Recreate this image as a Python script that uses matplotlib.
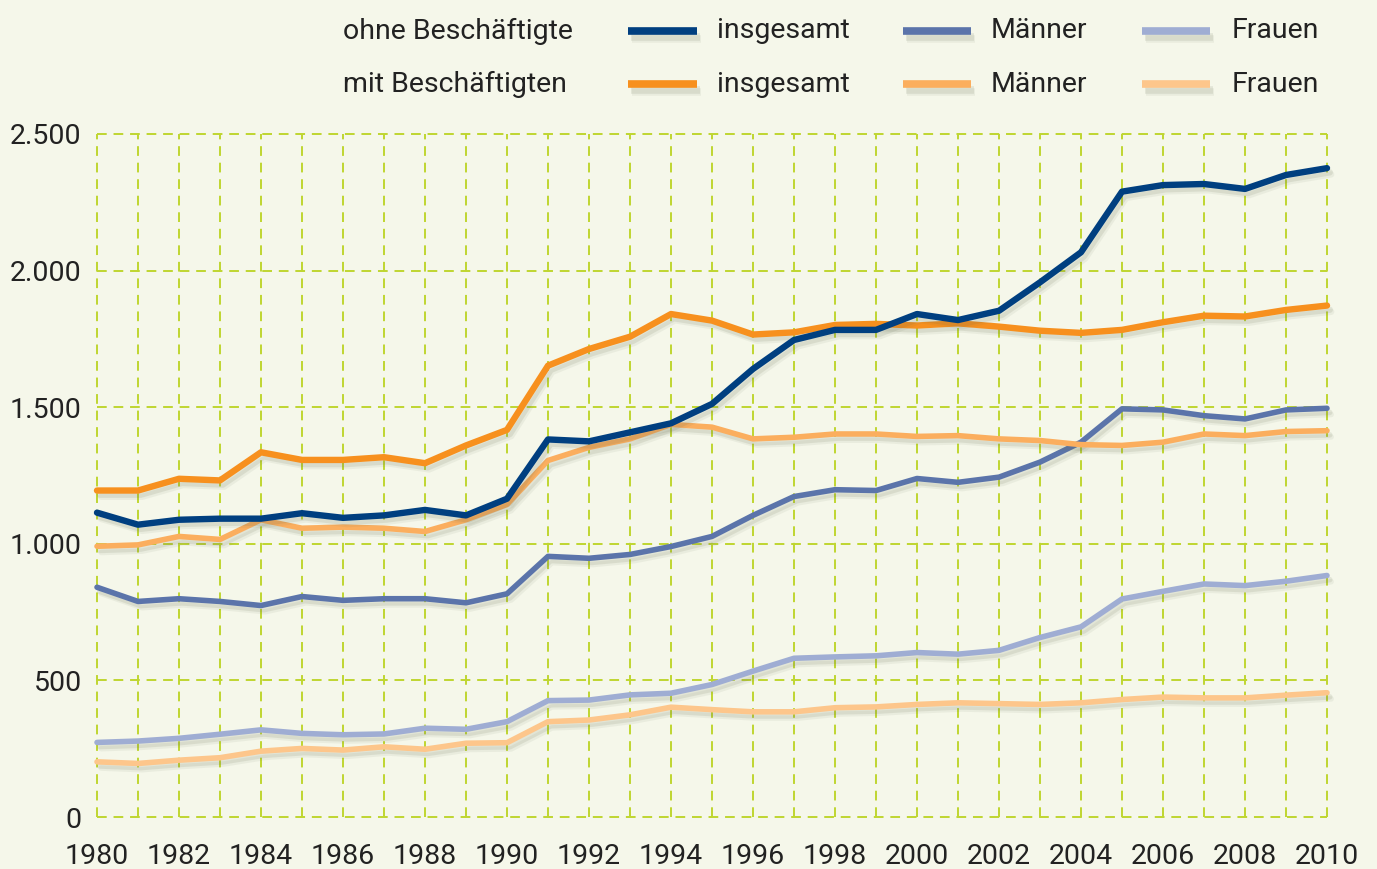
import matplotlib
matplotlib.use("Agg")
import matplotlib.pyplot as plt
import matplotlib.patheffects as pe
from matplotlib.lines import Line2D

plt.rcParams['font.family'] = ['Liberation Sans Narrow', 'Roboto', 'DejaVu Sans']

years = list(range(1980, 2011))

ohne_insgesamt = [1114, 1070, 1088, 1092, 1092, 1112, 1095, 1104, 1124, 1104, 1165,
                  1382, 1375, 1408, 1441, 1512, 1640, 1746, 1783, 1783, 1841,
                  1819, 1853, 1957, 2067, 2289, 2313, 2317, 2299, 2350, 2375]
ohne_maenner = [841, 789, 799, 789, 774, 807, 793, 799, 799, 784, 817,
                954, 947, 961, 990, 1027, 1104, 1173, 1198, 1195, 1239,
                1225, 1244, 1299, 1372, 1494, 1490, 1469, 1457, 1490, 1496]
ohne_frauen = [273, 278, 288, 303, 319, 306, 301, 304, 325, 321, 349,
               426, 428, 447, 453, 485, 534, 581, 586, 590, 602,
               596, 610, 657, 696, 798, 826, 853, 847, 863, 884]
mit_insgesamt = [1195, 1195, 1238, 1232, 1335, 1307, 1307, 1317, 1295, 1360, 1417,
                 1652, 1713, 1758, 1841, 1817, 1766, 1774, 1801, 1805, 1799,
                 1807, 1795, 1780, 1772, 1783, 1811, 1835, 1832, 1856, 1872]
mit_maenner = [991, 996, 1027, 1016, 1088, 1057, 1061, 1057, 1045, 1088, 1144,
               1305, 1353, 1384, 1437, 1427, 1384, 1390, 1402, 1402, 1393,
               1396, 1384, 1378, 1363, 1360, 1372, 1402, 1396, 1411, 1414]
mit_frauen = [202, 196, 208, 217, 241, 251, 245, 257, 248, 270, 272,
              349, 355, 374, 402, 393, 385, 385, 400, 403, 412,
              418, 415, 412, 418, 430, 439, 436, 436, 446, 455]

y_ticks = [0, 500, 1000, 1500, 2000, 2500]
y_labels = ["0", "500", "1.000", "1.500", "2.000", "2.500"]
x_ticks = list(range(1980, 2011, 2))

row_titles = ["ohne Beschäftigte", "mit Beschäftigten"]
col_labels = ["insgesamt", "Männer", "Frauen"]

C_DB = "#003F80"
C_MB = "#5B74AA"
C_LB = "#9FADD3"
C_DO = "#F7901E"
C_MO = "#FBAE5E"
C_LO = "#FDC68B"
BG = "#F5F7EA"
GRID = "#BFD630"

fig = plt.figure(figsize=(13.77, 8.69), dpi=100, facecolor=BG)
ax = fig.add_axes([97/1377, 1 - 817/869, 1230/1377, 683/869])
ax.set_facecolor(BG)

def shadow_fx(off=(2, -3)):
    return [pe.SimpleLineShadow(offset=off, shadow_color="#667055", alpha=0.13),
            pe.SimpleLineShadow(offset=(off[0] + 1, off[1] - 1.5), shadow_color="#667055", alpha=0.08),
            pe.Normal()]

series = [
    (ohne_frauen, C_LB, 4.0),
    (mit_frauen, C_LO, 4.0),
    (ohne_maenner, C_MB, 4.0),
    (mit_maenner, C_MO, 4.0),
    (mit_insgesamt, C_DO, 4.6),
    (ohne_insgesamt, C_DB, 4.6),
]
for vals, col, lw in series:
    ax.plot(years, vals, color=col, lw=lw, solid_capstyle='round',
            solid_joinstyle='round', path_effects=shadow_fx(), zorder=3, clip_on=False)

ax.set_xlim(1980, 2010)
ax.set_ylim(0, 2500)
ax.set_xticks(x_ticks)
ax.set_xticklabels([str(x) for x in x_ticks])
ax.set_yticks(y_ticks)
ax.set_yticklabels(y_labels)
ax.tick_params(axis='both', length=0, labelsize=20.5, colors="#222222")
ax.tick_params(axis='x', pad=19)
ax.tick_params(axis='y', pad=11)

for s in ax.spines.values():
    s.set_visible(False)

gkw = dict(color=GRID, lw=1.4, dashes=(5, 3.5), zorder=1, clip_on=False)
for yr in years:
    ax.axvline(yr, **gkw)
for yv in y_ticks:
    ax.axhline(yv, **gkw)

# legend
row_y = [1 - 31/869, 1 - 84/869]
sample_x = [(628, 697), (903, 971), (1142, 1210)]
label_x = [717, 991, 1232]
row_cols = [[C_DB, C_MB, C_LB], [C_DO, C_MO, C_LO]]
for r in range(2):
    fig.text(343/1377, row_y[r], row_titles[r], fontsize=20.5, color="#222222",
             ha='left', va='center')
    for c in range(3):
        x0, x1 = sample_x[c]
        ln = Line2D([x0/1377, x1/1377], [row_y[r], row_y[r]], transform=fig.transFigure,
                    color=row_cols[r][c], lw=5.5, solid_capstyle='butt',
                    path_effects=shadow_fx((2, -4)))
        fig.add_artist(ln)
        fig.text(label_x[c]/1377, row_y[r], col_labels[c], fontsize=20.5, color="#222222",
                 ha='left', va='center')

fig.savefig("out.png", dpi=100, facecolor=BG)
